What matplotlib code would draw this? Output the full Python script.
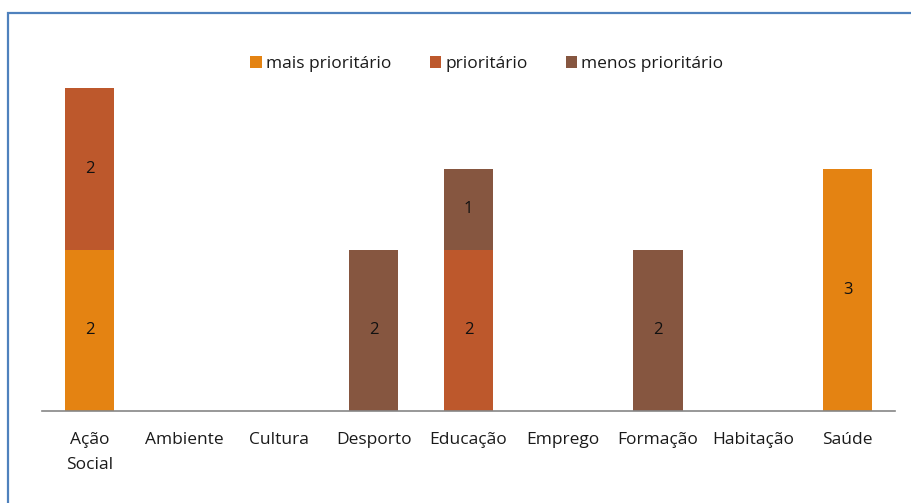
import matplotlib
matplotlib.use("Agg")
import matplotlib.pyplot as plt
from matplotlib.patches import Rectangle
import numpy as np

categorias = ["Ação\nSocial", "Ambiente", "Cultura", "Desporto", "Educação",
              "Emprego", "Formação", "Habitação", "Saúde"]
mais_prioritario = [2, 0, 0, 0, 0, 0, 0, 0, 3]
prioritario = [2, 0, 0, 0, 2, 0, 0, 0, 0]
menos_prioritario = [0, 0, 0, 2, 1, 0, 2, 0, 0]

series = [("mais prioritário", mais_prioritario, "#E48312"),
          ("prioritário", prioritario, "#BD582C"),
          ("menos prioritário", menos_prioritario, "#865640")]

plt.rcParams['font.family'] = ['Open Sans', 'DejaVu Sans']

fig = plt.figure(figsize=(9.12, 5.03), dpi=100)
ax = fig.add_axes([42/912, 1 - 411/503, (895 - 42)/912, (411 - 88)/503])

x = np.arange(len(categorias))
base = np.zeros(len(categorias))
for nome, vals, cor in series:
    vals = np.array(vals, dtype=float)
    ax.bar(x, vals, 0.52, bottom=base, color=cor, label=nome)
    for xi, b, v in zip(x, base, vals):
        if v > 0:
            ax.text(xi, b + v / 2, f"{int(v)}", ha="center", va="center",
                    fontsize=12, color="#111111")
    base += vals

ax.set_xlim(-0.5, len(categorias) - 0.5)
ax.set_ylim(0, 4)
ax.set_yticks([])
ax.set_xticks(x)
ax.set_xticklabels(categorias, fontsize=12.5, color="#1a1a1a", linespacing=1.8)
ax.tick_params(axis="x", length=0, pad=15)
for s in ["top", "right", "left"]:
    ax.spines[s].set_visible(False)
ax.spines["bottom"].set_color("#868686")
ax.spines["bottom"].set_linewidth(1.2)

fig.legend(loc="center", bbox_to_anchor=(487/912, 1 - 64/503), ncol=3,
           frameon=False, fontsize=12.5, handlelength=0.65, handleheight=0.65,
           handletextpad=0.25, columnspacing=2.2,
           labelcolor="#1a1a1a")

# moldura azul do gráfico
fig.patches.append(Rectangle((8/912, -0.1), 1.2, 1 - 13/503 + 0.1,
                             transform=fig.transFigure, fill=False,
                             edgecolor="#4F81BD", linewidth=1.6))

fig.savefig("out.png", dpi=100)
